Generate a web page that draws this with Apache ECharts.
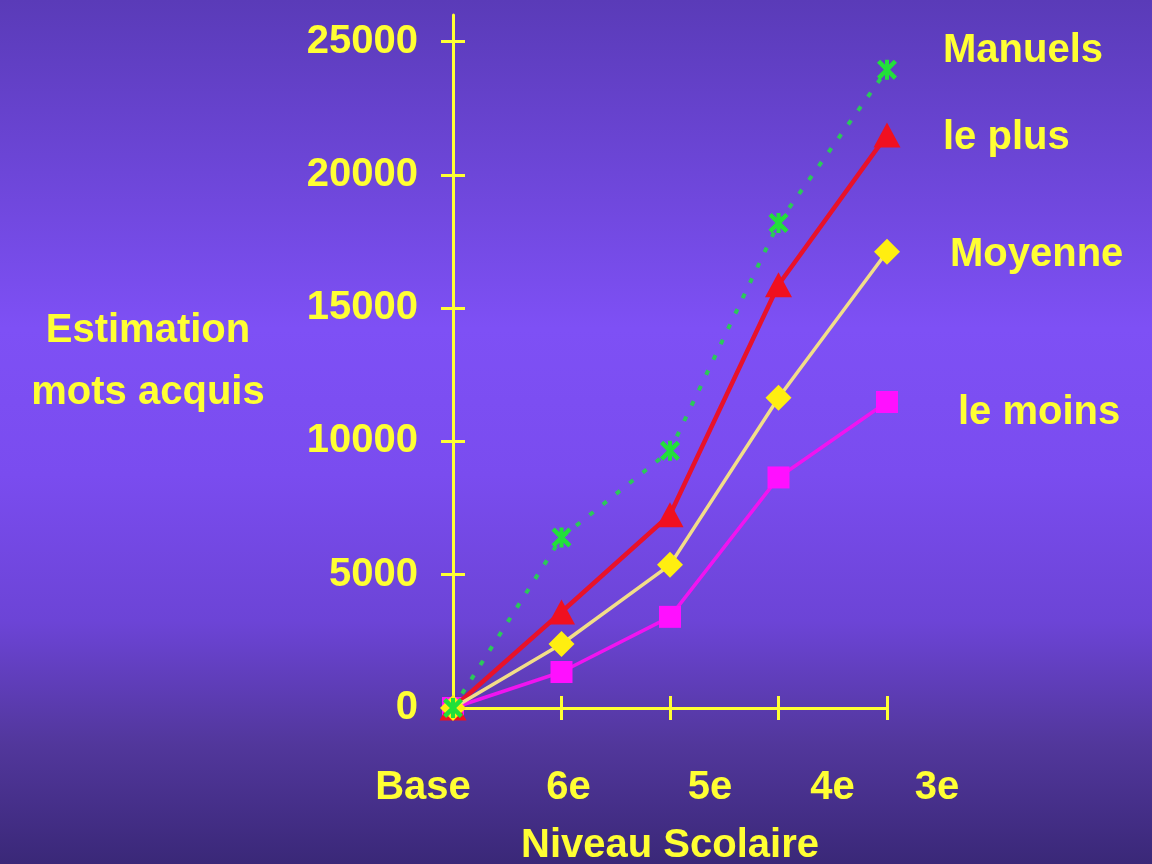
<!DOCTYPE html>
<html>
<head>
<meta charset="utf-8">
<script src="https://cdn.jsdelivr.net/npm/echarts@6/dist/echarts.min.js"></script>
<style>
html,body{margin:0;padding:0;width:1152px;height:864px;overflow:hidden;background:#5a3bb8;}
#chart{width:1152px;height:864px;}
</style>
</head>
<body>
<div id="chart"></div>
<script>
const categories = ['Base', '6e', '5e', '4e', '3e'];
const yTicks = [0, 5000, 10000, 15000, 20000, 25000];
const manuels = [0, 6400, 9650, 18200, 23950];
const lePlus = [0, 3600, 7250, 15880, 21500];
const moyenne = [0, 2400, 5370, 11640, 17120];
const leMoins = [0, 1350, 3420, 8650, 11480];
const seriesNames = ['Manuels', 'le plus', 'Moyenne', 'le moins'];
const yAxisTitle = 'Estimation\nmots acquis';
const xAxisTitle = 'Niveau Scolaire';

const YEL = '#ffff33';
const FONT = '"Liberation Sans", Arial, sans-serif';
const asterisk = 'path://M0,1.6 L1.6,0 L10,8.4 L8.4,10 Z M8.4,0 L10,1.6 L1.6,10 L0,8.4 Z M4,0 L6,0 L6,10 L4,10 Z';

// per-label horizontal shift (px) of the category labels
const labelShift = [-30, 7, 40, 54, 50];
const rich = {};
labelShift.forEach((d, i) => {
  rich['c' + i] = {
    color: YEL, fontSize: 40, fontWeight: 'bold', fontFamily: FONT,
    padding: d >= 0 ? [0, 0, 0, 2 * d] : [0, -2 * d, 0, 0]
  };
});

const chart = echarts.init(document.getElementById('chart'));
const baseText = {color: YEL, fontSize: 40, fontWeight: 'bold', fontFamily: FONT};
const grid = {left: 453, right: 265, top: 15, bottom: 156, containLabel: false, outerBoundsMode: 'none'};

function endLbl(dx, dy) {
  return {
    show: true, formatter: '{a}', distance: 0, offset: [dx, dy],
    color: YEL, fontSize: 40, fontWeight: 'bold', fontFamily: FONT, align: 'left'
  };
}

chart.setOption({
  backgroundColor: {
    type: 'linear', x: 0, y: 0, x2: 0, y2: 1,
    colorStops: [
      {offset: 0, color: '#5a3bb8'},
      {offset: 0.38, color: '#7e50f5'},
      {offset: 0.55, color: '#7a4cef'},
      {offset: 0.72, color: '#6c44d6'},
      {offset: 0.86, color: '#52379c'},
      {offset: 1, color: '#3a2878'}
    ]
  },
  animation: false,
  grid: grid,
  xAxis: [{
    type: 'category', data: categories, boundaryGap: false,
    axisLine: {lineStyle: {color: YEL, width: 3}},
    axisTick: {show: true, inside: false, length: 12, lineStyle: {color: YEL, width: 3}},
    axisLabel: {
      interval: 0, margin: 60,
      formatter: (v, i) => '{c' + i + '|' + v + '}',
      rich: rich
    },
    name: xAxisTitle, nameLocation: 'middle', nameGap: 118,
    nameTextStyle: baseText,
    splitLine: {show: false}
  }, {
    type: 'category', data: categories, boundaryGap: false, position: 'bottom',
    axisLine: {show: false},
    axisTick: {show: true, inside: true, length: 12, lineStyle: {color: YEL, width: 3}},
    axisLabel: {show: false},
    splitLine: {show: false}
  }],
  yAxis: [{
    type: 'value', min: 0, max: 26000,
    axisLine: {show: true, lineStyle: {color: YEL, width: 3}},
    axisTick: {show: true, inside: false, length: 12, customValues: yTicks.slice(1), lineStyle: {color: YEL, width: 3}},
    axisLabel: {customValues: yTicks, margin: 35, formatter: v => String(v), ...baseText},
    splitLine: {show: false},
    name: yAxisTitle, nameLocation: 'middle', nameGap: 305, nameRotate: 0,
    nameTextStyle: {...baseText, align: 'center', lineHeight: 62}
  }, {
    type: 'value', min: 0, max: 26000, position: 'left',
    axisLine: {show: false},
    axisTick: {show: true, inside: true, length: 12, customValues: yTicks.slice(1), lineStyle: {color: YEL, width: 3}},
    axisLabel: {show: false},
    splitLine: {show: false}
  }],
  series: [{
    name: seriesNames[3], type: 'line', data: leMoins,
    symbol: 'rect', symbolSize: 22,
    itemStyle: {color: '#ff10ff'},
    lineStyle: {color: '#f014f0', width: 3.5},
    endLabel: endLbl(71, 11), z: 2
  }, {
    name: seriesNames[1], type: 'line', data: lePlus,
    symbol: 'triangle', symbolSize: [27, 25],
    itemStyle: {color: '#f01020'},
    lineStyle: {color: '#e8122a', width: 4.5},
    endLabel: endLbl(56, 3), z: 3
  }, {
    name: seriesNames[2], type: 'line', data: moyenne,
    symbol: 'diamond', symbolSize: 26,
    itemStyle: {color: '#ffee10'},
    lineStyle: {color: '#f2de88', width: 3.5},
    endLabel: endLbl(63, 3), z: 4
  }, {
    name: seriesNames[0], type: 'line', data: manuels,
    symbol: asterisk, symbolSize: 20,
    itemStyle: {color: '#22e03a'},
    lineStyle: {color: '#2cc85a', width: 4, type: [5, 12]},
    endLabel: endLbl(56, -19), z: 5
  }]
});
</script>
</body>
</html>
